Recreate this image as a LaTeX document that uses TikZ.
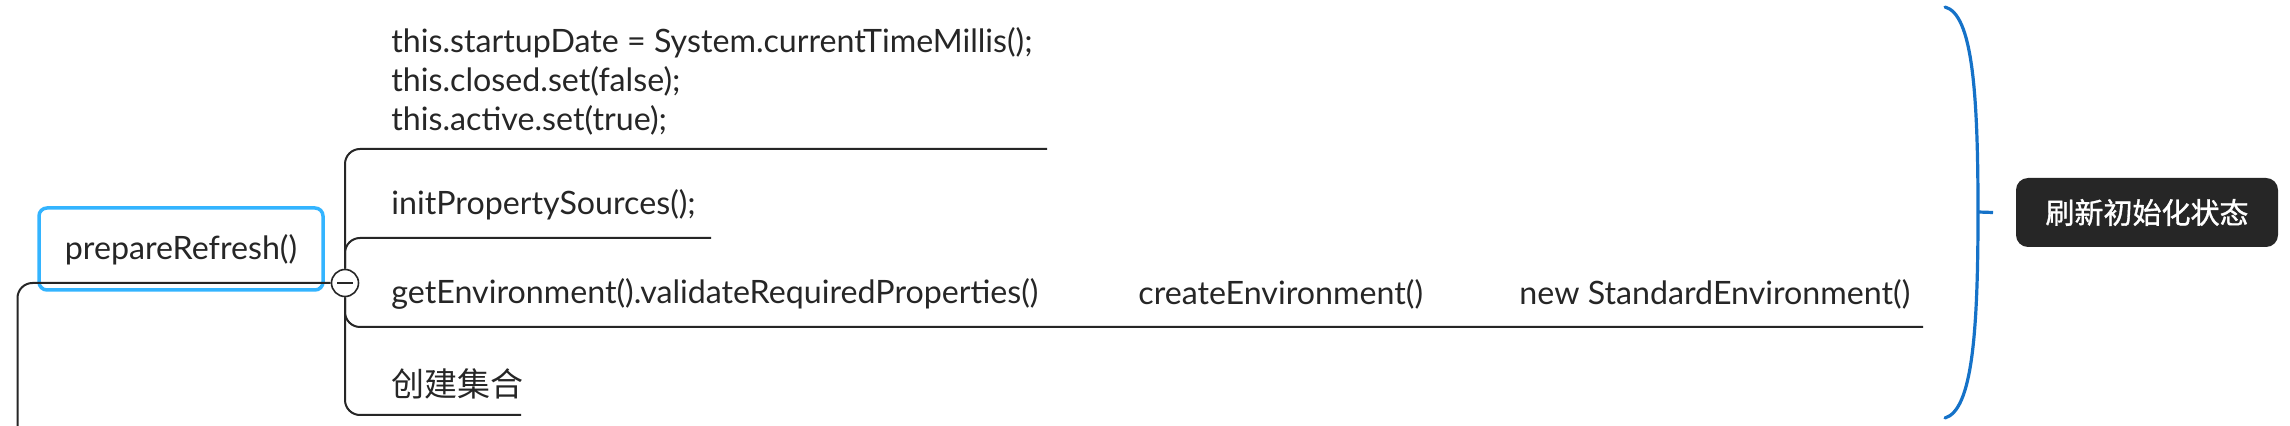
\documentclass[tikz,border=0pt]{standalone}
\usepackage{fontspec}
\setmainfont{Lato}
\newfontfamily\cjk{Noto Sans CJK SC}
\newfontfamily\cjklab[FakeBold=1.2]{Noto Sans CJK SC}
\definecolor{ink}{HTML}{262626}
\definecolor{selblue}{HTML}{33B4FF}
\definecolor{braceblue}{HTML}{1572C8}
\begin{document}
\begin{tikzpicture}[x=0.5pt,y=-0.5pt,
  txt/.style={anchor=west,inner sep=0pt,text=ink,font=\fontsize{16.1}{19.5}\selectfont},
  conn/.style={draw=ink,line width=1pt,rounded corners=7.5pt},
  selbox/.style={draw=selblue,line width=1.75pt,rounded corners=4pt,minimum width=142pt,minimum height=41pt,inner sep=0pt},
  tag/.style={fill=ink,rounded corners=6pt,minimum width=131pt,minimum height=34.5pt,inner sep=0pt,text=white,font=\cjklab\fontsize{14.5}{16}\selectfont}]
\fill[white] (0,0) rectangle (2290,426);
\useasboundingbox (0,0) rectangle (2290,426);
% main node
\node[selbox] (root) at (181,249) {};
\node[inner sep=0pt,text=ink,font=\fontsize{16.1}{18}\selectfont] (roottxt) at (181,250) {prepareRefresh()};
\node[circle,draw=ink,fill=white,line width=0.8pt,minimum size=13.5pt,inner sep=0pt] (circ) at (345,283) {};
\coordinate (lb) at (17.5,426);
\draw[conn] (lb) |- (circ.west);
\draw[ink,line width=1pt] ([xshift=-4pt]circ.center) -- ([xshift=4pt]circ.center);
% branch texts
\node[txt,align=left] (b1) at (391,81) {this.startupDate = System.currentTimeMillis();\\this.closed.set(false);\\this.active.set(true);};
\node[txt] (b2) at (391,205) {initPropertySources();};
\node[txt] (b3) at (391,294) {getEnvironment().validateRequiredProperties()};
\node[txt] (b3a) at (1138,294) {createEnvironment()};
\node[txt] (b3b) at (1519,294) {new StandardEnvironment()};
\node[txt,font=\cjk\fontsize{16.5}{18}\selectfont] (b4) at (391,384) {创建集合};
% branch underlines
\coordinate (e1) at (1047,149);
\coordinate (e2) at (711,238);
\coordinate (e3) at (1923,327);
\coordinate (e4) at (521,415);
\draw[conn] (circ.north) |- (e1);
\draw[conn] (circ.north) |- (e2);
\draw[conn] (circ.south) |- (e3);
\draw[conn] (circ.south) |- (e4);
% summary brace
\node[tag] (sum) at (2147,212.5) {刷新初始化状态};
\coordinate (bt) at (1945,7);
\coordinate (bm) at (1978,212);
\coordinate (bb) at (1945,418);
\draw[braceblue,line width=1.6pt,line cap=round] (bt) .. controls (1972,14) and (1978,90) .. (bm) .. controls (1978,334) and (1972,410) .. (bb);
\draw[braceblue,line width=1.6pt] (bm) -- (sum.west -| 1993,0);
\end{tikzpicture}
\end{document}
